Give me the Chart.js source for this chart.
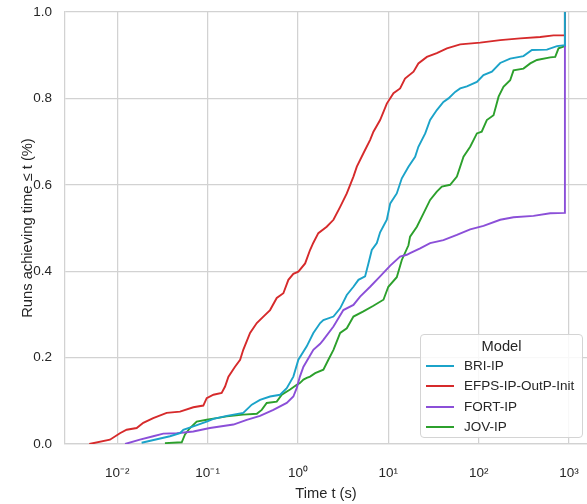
<!DOCTYPE html>
<html>
<head>
<meta charset="utf-8">
<script src="https://cdn.jsdelivr.net/npm/chart.js@4.4.0/dist/chart.umd.min.js"></script>
<style>
  html, body { margin: 0; padding: 0; background: #ffffff; }
  #wrap { position: relative; width: 587px; height: 504px; overflow: hidden; }
  #chart { display: block; }
  #legend {
    position: absolute; left: 420px; top: 334px; width: 163px; height: 104px;
    box-sizing: border-box; border: 1px solid #d4d4d4; border-radius: 4px;
    background: rgba(255,255,255,0.85);
    font-family: 'Liberation Sans', Arial, sans-serif; color: #262626;
  }
  #legend .title { position: absolute; left: 0; right: 0; top: 2px; text-align: center; font-size: 14.7px; line-height: 18px; }
  #legend .row { position: absolute; left: 0; height: 18px; line-height: 18px; font-size: 13.5px; white-space: nowrap; }
  #legend .swatch { position: absolute; left: 5px; top: 8px; width: 28px; height: 2px; }
  #legend .lbl { position: absolute; left: 43px; top: 0; }
</style>
</head>
<body>
<div id="wrap">
  <canvas id="chart" width="587" height="504"></canvas>
  <div id="legend"></div>
</div>
<script>
// ---- Data (time in seconds, share of runs) ----
const seriesNames = ['BRI-IP', 'EFPS-IP-OutP-Init', 'FORT-IP', 'JOV-IP'];
const seriesColors = ['#1ba3c9', '#d62a2b', '#8b4fd8', '#2ca02c'];

const briTime = [0.0186, 0.0383, 0.0495, 0.0538, 0.0695, 0.0977, 0.116, 0.163, 0.248, 0.308, 0.380, 0.491, 0.634, 0.751, 0.889, 1.01, 1.25, 1.48, 1.76, 1.91, 2.47, 2.93, 3.47, 4.11, 4.67, 5.53, 6.02, 6.56, 7.46, 8.11, 9.62, 10.5, 12.4, 14.1, 16.7, 19.8, 21.5, 25.6, 29.0, 34.4, 40.7, 46.3, 54.9, 62.4, 74.0, 95.5, 113, 140, 173, 223, 313, 388, 569, 735, 900, 900];
const briShare = [0.003, 0.018, 0.025, 0.033, 0.041, 0.052, 0.058, 0.065, 0.072, 0.091, 0.102, 0.110, 0.114, 0.129, 0.156, 0.195, 0.226, 0.257, 0.28, 0.287, 0.295, 0.314, 0.345, 0.364, 0.38, 0.388, 0.418, 0.449, 0.465, 0.49, 0.519, 0.557, 0.58, 0.615, 0.642, 0.665, 0.688, 0.719, 0.75, 0.773, 0.792, 0.80, 0.815, 0.823, 0.828, 0.838, 0.854, 0.862, 0.882, 0.892, 0.898, 0.912, 0.913, 0.921, 0.923, 1.0];

const efpsTime = [0.0049, 0.0083, 0.0107, 0.0127, 0.0164, 0.0194, 0.025, 0.0352, 0.0495, 0.0695, 0.0896, 0.0977, 0.116, 0.143, 0.156, 0.170, 0.201, 0.229, 0.248, 0.295, 0.350, 0.414, 0.491, 0.582, 0.689, 0.783, 0.889, 1.01, 1.20, 1.36, 1.48, 1.68, 2.08, 2.47, 2.93, 3.47, 4.11, 4.48, 5.30, 6.29, 6.84, 8.11, 9.62, 11.4, 13.5, 15.3, 19.0, 21.5, 26.7, 34.4, 44.5, 62.4, 104, 173, 288, 480, 673, 900, 900];
const efpsShare = [0.0, 0.0099, 0.025, 0.033, 0.037, 0.049, 0.06, 0.072, 0.075, 0.085, 0.089, 0.106, 0.114, 0.118, 0.133, 0.156, 0.179, 0.195, 0.218, 0.257, 0.28, 0.295, 0.31, 0.338, 0.349, 0.38, 0.394, 0.399, 0.418, 0.449, 0.466, 0.488, 0.503, 0.519, 0.549, 0.58, 0.619, 0.642, 0.673, 0.704, 0.723, 0.75, 0.788, 0.812, 0.823, 0.846, 0.862, 0.881, 0.896, 0.905, 0.916, 0.925, 0.929, 0.935, 0.939, 0.942, 0.946, 0.946, 1.0];

const fortTime = [0.0122, 0.0178, 0.025, 0.0323, 0.0455, 0.0695, 0.106, 0.193, 0.271, 0.38, 0.534, 0.751, 0.889, 0.97, 1.05, 1.15, 1.36, 1.48, 1.76, 1.91, 2.47, 3.18, 4.11, 4.87, 6.29, 8.11, 10.5, 13.5, 16.0, 17.4, 22.5, 29.0, 40.7, 57.4, 80.5, 113, 173, 243, 404, 619, 900, 900];
const fortShare = [0.0, 0.01, 0.018, 0.024, 0.025, 0.029, 0.037, 0.045, 0.056, 0.065, 0.079, 0.095, 0.11, 0.13, 0.156, 0.179, 0.205, 0.218, 0.232, 0.241, 0.272, 0.31, 0.322, 0.341, 0.364, 0.388, 0.413, 0.434, 0.438, 0.442, 0.453, 0.465, 0.472, 0.484, 0.497, 0.505, 0.519, 0.525, 0.528, 0.534, 0.535, 1.0];

const jovTime = [0.0337, 0.0517, 0.0562, 0.0638, 0.0757, 0.0977, 0.126, 0.163, 0.248, 0.350, 0.397, 0.451, 0.582, 0.662, 0.818, 0.970, 1.05, 1.15, 1.25, 1.36, 1.55, 1.91, 2.17, 2.47, 2.93, 3.47, 4.11, 5.30, 6.84, 8.83, 10.0, 12.4, 14.1, 16.7, 17.4, 20.7, 24.5, 29.0, 34.4, 39.1, 48.3, 57.4, 67.9, 80.5, 95.5, 108, 123, 146, 166, 188, 223, 243, 313, 372, 441, 619, 703, 765, 869, 900, 900];
const jovShare = [0.002, 0.004, 0.022, 0.037, 0.052, 0.056, 0.06, 0.064, 0.068, 0.070, 0.079, 0.095, 0.098, 0.114, 0.126, 0.137, 0.141, 0.149, 0.153, 0.156, 0.164, 0.172, 0.195, 0.218, 0.257, 0.268, 0.295, 0.307, 0.32, 0.334, 0.364, 0.386, 0.426, 0.46, 0.48, 0.503, 0.534, 0.565, 0.584, 0.596, 0.60, 0.619, 0.665, 0.688, 0.719, 0.723, 0.75, 0.761, 0.804, 0.827, 0.842, 0.865, 0.869, 0.881, 0.889, 0.895, 0.896, 0.916, 0.92, 0.921, 1.0];

const xTickValues = [0.01, 0.1, 1, 10, 100, 1000];
const yTickValues = [0, 0.2, 0.4, 0.6, 0.8, 1.0];
const xTitle = 'Time t (s)';
const yTitle = 'Runs achieving time ≤ t (%)';
const legendTitle = 'Model';
const xMin = 0.00264, xMax = 1580;

// ---- Build chart ----
const times = [briTime, efpsTime, fortTime, jovTime];
const shares = [briShare, efpsShare, fortShare, jovShare];
const FONT = "'Liberation Sans', Arial, sans-serif";
const TEXT = '#262626';
const GRID = '#d2d2d2';

const SUP = {'-': '\u207B', '0': '\u2070', '1': '\u00B9', '2': '\u00B2', '3': '\u00B3', '4': '\u2074', '5': '\u2075', '6': '\u2076', '7': '\u2077', '8': '\u2078', '9': '\u2079'};
function decadeLabel(v) {
  const e = String(Math.round(Math.log10(v)));
  return '10' + e.split('').map(c => SUP[c]).join('');
}

const datasets = seriesNames.map((name, i) => ({
  label: name,
  data: times[i].map((t, j) => ({ x: t, y: shares[i][j] })),
  borderColor: seriesColors[i],
  backgroundColor: seriesColors[i],
  borderWidth: 1.9,
  pointRadius: 0,
  tension: 0,
  fill: false,
  order: i
}));

new Chart(document.getElementById('chart'), {
  type: 'line',
  data: { datasets },
  options: {
    responsive: false,
    animation: false,
    devicePixelRatio: 1,
    layout: { padding: { top: 12, left: 0, right: 0, bottom: 0 } },
    plugins: { legend: { display: false }, tooltip: { enabled: false } },
    scales: {
      x: {
        type: 'logarithmic', min: xMin, max: xMax,
        afterBuildTicks: ax => { ax.ticks = xTickValues.map(v => ({ value: v })); },
        afterFit: ax => { ax.height = 60; ax.paddingLeft = 0; ax.paddingRight = 0; },
        grid: { color: GRID, lineWidth: 1.25, drawTicks: false },
        border: { color: GRID, width: 1.25 },
        ticks: { autoSkip: false, maxRotation: 0, padding: 21, color: TEXT,
                 font: { family: FONT, size: 13.5 }, callback: v => decadeLabel(v) },
        title: { display: true, text: xTitle, color: TEXT, font: { family: FONT, size: 14.7 }, padding: { top: 0, bottom: 1 } }
      },
      y: {
        min: 0, max: 1,
        afterBuildTicks: ax => { ax.ticks = yTickValues.map(v => ({ value: v })); },
        afterFit: ax => { ax.width = 65; ax.paddingTop = 0; ax.paddingBottom = 0; },
        grid: { color: GRID, lineWidth: 1.25, drawTicks: false },
        border: { color: GRID, width: 1.25 },
        ticks: { padding: 13, color: TEXT, font: { family: FONT, size: 13.5 }, callback: v => Number(v).toFixed(1) },
        title: { display: true, text: yTitle, color: TEXT, font: { family: FONT, size: 14.7 }, padding: { top: 19, bottom: 0 } }
      }
    }
  }
});

// ---- Legend (HTML, real text) ----
const leg = document.getElementById('legend');
const tt = document.createElement('div');
tt.className = 'title'; tt.textContent = legendTitle; leg.appendChild(tt);
seriesNames.forEach((name, i) => {
  const r = document.createElement('div');
  r.className = 'row';
  r.style.top = (22 + i * 20.4) + 'px';
  const s = document.createElement('div'); s.className = 'swatch'; s.style.background = seriesColors[i];
  const l = document.createElement('div'); l.className = 'lbl'; l.textContent = name;
  r.appendChild(s); r.appendChild(l); leg.appendChild(r);
});
</script>
</body>
</html>
